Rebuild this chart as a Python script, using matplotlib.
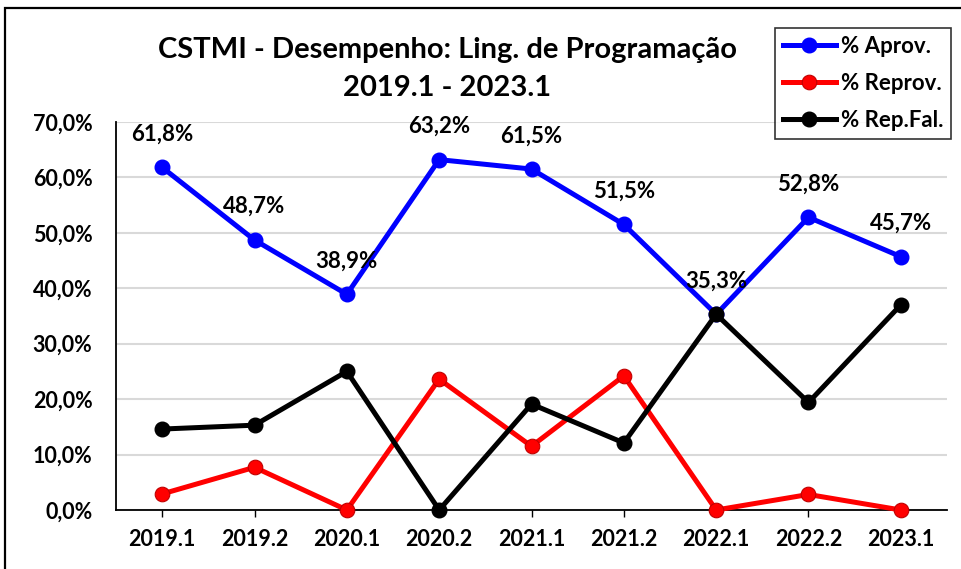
import matplotlib
matplotlib.use("Agg")
import matplotlib.pyplot as plt
from matplotlib.patches import Rectangle
from matplotlib.ticker import FuncFormatter

# Data
semesters = ["2019.1", "2019.2", "2020.1", "2020.2", "2021.1", "2021.2", "2022.1", "2022.2", "2023.1"]
aprov = [61.8, 48.7, 38.9, 63.2, 61.5, 51.5, 35.3, 52.8, 45.7]
reprov = [2.9, 7.7, 0.0, 23.6, 11.5, 24.2, 0.0, 2.8, 0.0]
rep_fal = [14.6, 15.3, 25.0, 0.0, 19.1, 12.1, 35.3, 19.4, 37.0]

plt.rcParams["font.family"] = ["Lato", "DejaVu Sans"]
plt.rcParams["font.weight"] = "bold"

fig = plt.figure(figsize=(9.62, 5.69), dpi=100)
ax = fig.add_axes([0.1206, 0.1037, 0.8638, 0.682])

# outer chart border
fig.patches.append(Rectangle((5 / 962, -0.01), 1.0, 1 - 8 / 569 + 0.01, transform=fig.transFigure,
                             fill=False, edgecolor="black", linewidth=1.6))

x = range(len(semesters))
ax.plot(x, aprov, color="#0000ff", lw=3.6, marker="o", ms=10.5, label="% Aprov.", zorder=4, clip_on=False)
ax.plot(x, reprov, color="#ff0000", lw=3.6, marker="o", ms=10.5, mec="#c00000", mew=0.8,
        label="% Reprov.", zorder=3, clip_on=False)
ax.plot(x, rep_fal, color="black", lw=3.6, marker="o", ms=10.5, label="% Rep.Fal.", zorder=5, clip_on=False)

for i, v in enumerate(aprov):
    ax.annotate(f"{v:.1f}%".replace(".", ","), (i, v), xytext=(0, 24), textcoords="offset points",
                ha="center", va="center", fontsize=16, fontweight="bold", zorder=6)

ax.set_xlim(-0.5, 8.5)
ax.set_ylim(0, 70)
ax.set_yticks(range(0, 71, 10))
ax.yaxis.set_major_formatter(FuncFormatter(lambda v, p: f"{v:.1f}%".replace(".", ",")))
ax.set_xticks(list(x))
ax.set_xticklabels(semesters)
ax.tick_params(axis="y", length=0, labelsize=15.5, pad=17)
ax.tick_params(axis="x", length=5, labelsize=15.5, pad=9, width=1)
ax.grid(axis="y", color="#d9d9d9", lw=1.5)
ax.set_axisbelow(True)
for s in ["top", "right"]:
    ax.spines[s].set_visible(False)
ax.spines["left"].set_linewidth(1.3)
ax.spines["bottom"].set_linewidth(1.3)

fig.text(0.465, 0.912, "CSTMI - Desempenho: Ling. de Programação", ha="center", va="center",
         fontsize=21, fontweight="bold")
fig.text(0.465, 0.845, "2019.1 - 2023.1", ha="center", va="center", fontsize=21, fontweight="bold")

leg = fig.legend(loc="upper left", bbox_to_anchor=(775 / 962, 1 - 28 / 569),
                 prop={"size": 16, "weight": "bold", "family": ["Lato", "DejaVu Sans"]},
                 frameon=True, fancybox=False, edgecolor="black", handlelength=2.4,
                 handletextpad=0.2, borderpad=0.35, labelspacing=0.72, borderaxespad=0)
leg.get_frame().set_linewidth(1.2)

fig.savefig("out.png", dpi=100)
